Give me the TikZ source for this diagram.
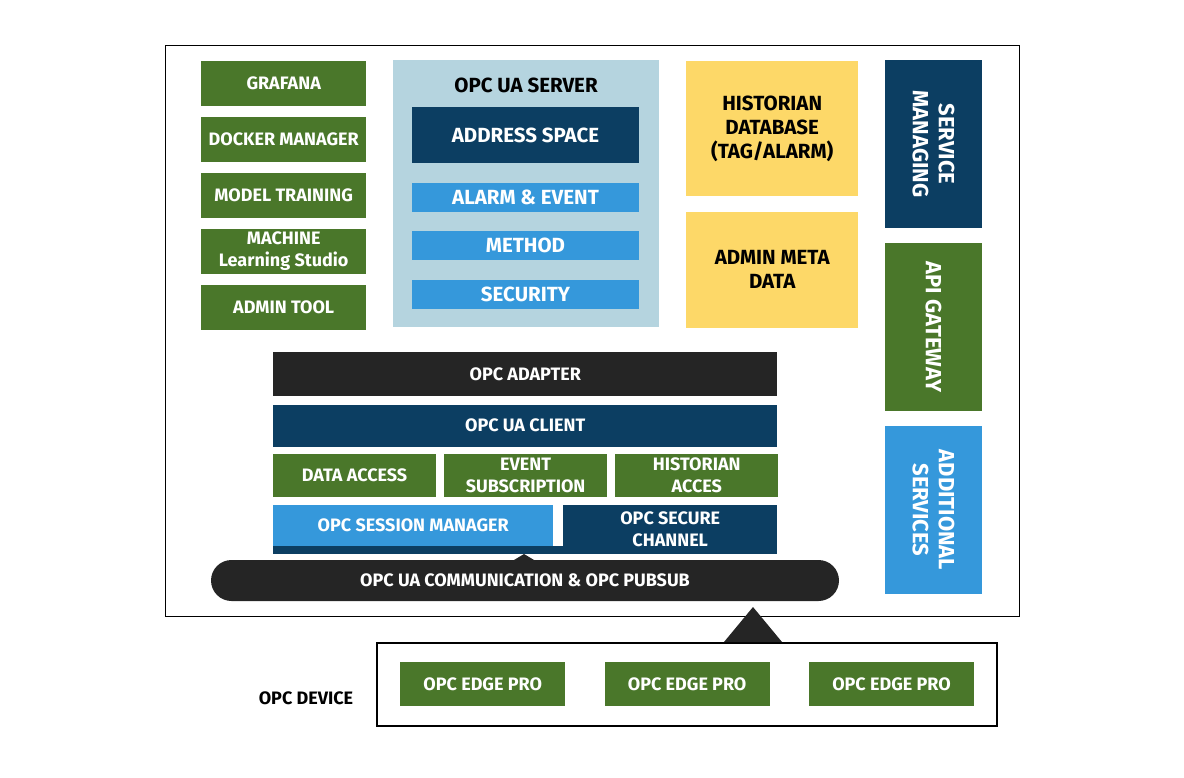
\documentclass[tikz,border=0pt]{standalone}
\usepackage{fontspec}
\setmainfont{Fira Sans}
\usetikzlibrary{positioning}
\definecolor{ogreen}{RGB}{74,119,42}
\definecolor{onavy}{RGB}{12,62,98}
\definecolor{oblue}{RGB}{53,152,219}
\definecolor{osteel}{RGB}{181,212,223}
\definecolor{oyellow}{RGB}{253,216,104}
\definecolor{odark}{RGB}{37,37,37}

\begin{document}
\begin{tikzpicture}[x=1pt,y=-1pt,
	bx/.style = {inner sep=0pt, align=center, text=white, font=\fontsize{18}{22}\selectfont\bfseries},
	big/.style = {font=\fontsize{20.5}{24}\selectfont\bfseries},
	grn/.style = {bx, fill=ogreen},
	nav/.style = {bx, fill=onavy},
	lbl/.style = {bx, fill=oblue},
	ylw/.style = {bx, big, fill=oyellow, text=black},
	dk/.style = {bx, fill=odark},
	lft/.style = {grn, minimum width=165pt, minimum height=45pt},
	sub/.style = {lbl, big, minimum width=227pt, minimum height=29pt},
	side/.style = {bx, rotate=-90, minimum width=168pt, minimum height=97pt, font=\fontsize{22}{26}\selectfont\bfseries},
	row/.style = {grn, minimum width=162.7pt, minimum height=43pt},
	edge/.style = {grn, minimum width=165pt, minimum height=44pt}]
	\useasboundingbox (0,0) rectangle (1184,778);
	\node[draw, line width=1pt, minimum width=854pt, minimum height=571pt, anchor=north west] (frame) at (165,45) {};
	\node[lft, anchor=north west] (graf) at (201,61) {GRAFANA};
	\node[lft, below=10.5pt of graf] (dock) {DOCKER MANAGER};
	\node[lft, below=10.5pt of dock] (train) {MODEL TRAINING};
	\node[lft, below=10.5pt of train] (mls) {MACHINE\\Learning Studio};
	\node[lft, below=10.5pt of mls] (tool) {ADMIN TOOL};
	\node[fill=osteel, minimum width=266pt, minimum height=267pt, anchor=north west] (srv) at (393,60) {};
	\node[bx, big, text=black] (srvt) at (526,85) {OPC UA SERVER};
	\node[nav, big, minimum width=227pt, minimum height=56pt, anchor=north] (addr) at (525.5,107) {ADDRESS SPACE};
	\node[sub, below=19pt of addr] (alarm) {ALARM \& EVENT};
	\node[sub, below=19pt of alarm] (meth) {METHOD};
	\node[sub, below=19.5pt of meth] (sec) {SECURITY};
	\node[ylw, minimum width=172pt, minimum height=135pt, anchor=north west] (hist) at (686,61) {HISTORIAN\\DATABASE\\(TAG/ALARM)};
	\node[ylw, minimum width=172pt, minimum height=116pt, below=15pt of hist] (meta) {ADMIN META\\DATA};
	\node[side, fill=onavy] (svc) at (933.5,144) {SERVICE\\MANAGING};
	\node[side, fill=ogreen] (api) at (933.5,327) {API GATEWAY};
	\node[side, fill=oblue] (add) at (933.5,510) {ADDITIONAL\\SERVICES};
	\node[dk, minimum width=504pt, minimum height=44pt, anchor=north west] (adapt) at (273,352) {OPC ADAPTER};
	\node[nav, minimum width=504pt, minimum height=42pt, below=8pt of adapt] (client) {OPC UA CLIENT};
	\node[row, anchor=north west] (da) at (273,454) {DATA ACCESS};
	\node[row, right=8pt of da] (evt) {EVENT\\SUBSCRIPTION};
	\node[row, right=8pt of evt] (hacc) {HISTORIAN\\ACCES};
	\node[fill=onavy, inner sep=0pt, minimum width=504pt, minimum height=8pt, anchor=north west] (base) at (273,546) {};
	\node[lbl, minimum width=280pt, minimum height=41pt, anchor=north west] (sess) at (273,505) {OPC SESSION MANAGER};
	\node[nav, minimum width=214pt, minimum height=49pt, anchor=north west] (chan) at (563,505) {OPC SECURE\\CHANNEL};
	\coordinate (ptr) at (524,554);
	\fill[odark] (ptr) -- ++(-10,6) -- ++(20,0) -- cycle;
	\node[dk, rounded corners=20.5pt, minimum width=628pt, minimum height=41pt] (pill) at (525,580.5) {OPC UA COMMUNICATION \& OPC PUBSUB};
	\node[draw, line width=2pt, minimum width=620pt, minimum height=83pt, anchor=north west] (dev) at (376,642) {};
	\node[edge, anchor=north west] (e1) at (400,662) {OPC EDGE PRO};
	\node[edge, right=39pt of e1] (e2) {OPC EDGE PRO};
	\node[edge, right=39pt of e2] (e3) {OPC EDGE PRO};
	\node[bx, text=black] (devl) at (306,698) {OPC DEVICE};
	\coordinate (up) at (753,607);
	\fill[odark] (up) -- ++(29,35) -- ++(-58,0) -- cycle;
\end{tikzpicture}
\end{document}
